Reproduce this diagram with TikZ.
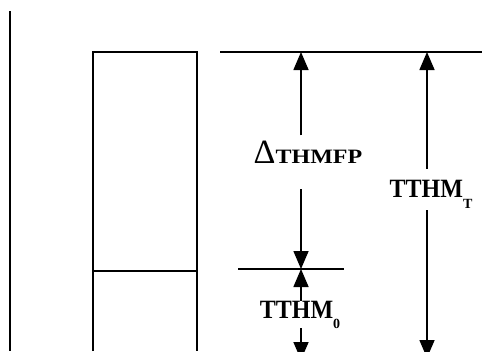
\documentclass[tikz,border=0pt]{standalone}
\usepackage{fontspec}
\setmainfont{Liberation Serif}
\usetikzlibrary{arrows.meta}

\begin{document}
\begin{tikzpicture}[
    x=1pt, y=-1pt,
    rule/.style={line width=1.6pt, black},
    arr/.style={-{Triangle[length=18pt, width=15pt]}, line width=1.6pt, black},
    lbl/.style={inner sep=0pt, anchor=base, font=\bfseries\fontsize{24}{24}\selectfont}
]
\useasboundingbox (0,0) rectangle (482,351);
\clip (0,0) rectangle (482,351);
% column
\draw[rule] (10,11) -- (10,351);
\draw[rule] (93,351) -- (93,52) -- (197,52) -- (197,351);
\draw[rule] (93,271) -- (197,271);
% levels
\coordinate (topL) at (220,52);
\coordinate (topR) at (482,52);
\coordinate (midL) at (238,269);
\coordinate (midR) at (344,269);
\draw[rule] (topL) -- (topR);
\draw[rule] (midL) -- (midR);
% labels
\node[lbl] (dthm) at (308,163) {{\mdseries\fontsize{34}{34}\selectfont Δ}\scalebox{1}[0.85]{THMFP}};
\node[lbl] (tthmT) at (431,197) {\scalebox{1}[1.1]{TTHM}\raisebox{-11pt}{\fontsize{14}{14}\selectfont T}};
\node[lbl] (tthm0) at (300,318) {\scalebox{1}[1.1]{TTHM}\raisebox{-10pt}{\fontsize{14}{14}\selectfont 0}};
\coordinate (dtop) at (301,52);
\coordinate (dmid) at (301,269);
\coordinate (ttop) at (427,52);
\coordinate (tbot) at (427,358);
\coordinate (zbot) at (301,360);
% arrows
\draw[arr, shorten <=5pt] (dthm.north -| dtop) -- (dtop);
\draw[arr, shorten <=26pt] (dthm.south -| dmid) -- (dmid);
\draw[arr, shorten <=11pt] (tthmT.north -| ttop) -- (ttop);
\draw[arr, shorten <=2pt] (tthmT.south -| tbot) -- (tbot);
\draw[arr] (tthm0.north -| dmid) -- (dmid);
\draw[arr] (tthm0.south -| zbot) -- (zbot);
\end{tikzpicture}
\end{document}
